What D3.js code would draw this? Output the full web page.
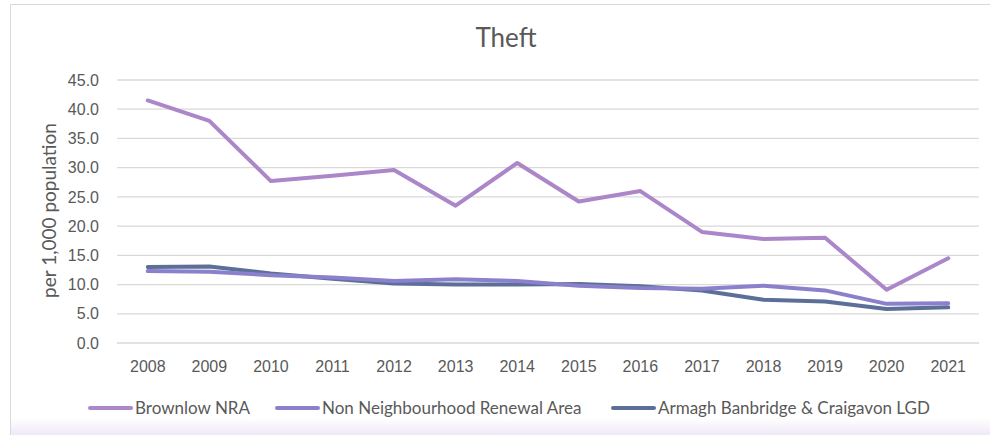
<!DOCTYPE html>
<html>
<head>
<meta charset="utf-8">
<script src="https://cdn.jsdelivr.net/npm/d3@7"></script>
<style>
  body { margin: 0; background: #fff; }
  svg { display: block; font-family: Lato, "Open Sans", sans-serif; }
</style>
</head>
<body>
<div id="chart"></div>
<script>
// data
var years = ["2008","2009","2010","2011","2012","2013","2014","2015","2016","2017","2018","2019","2020","2021"];
var brownlow = [41.5, 38.0, 27.7, 28.6, 29.6, 23.5, 30.8, 24.2, 26.0, 19.0, 17.8, 18.0, 9.1, 14.5];
var nonNRA   = [12.3, 12.2, 11.6, 11.2, 10.6, 10.9, 10.6,  9.8,  9.4,  9.3,  9.8,  9.0, 6.7,  6.8];
var lgd      = [13.0, 13.1, 11.9, 11.0, 10.2, 10.0, 10.0, 10.1,  9.7,  9.0,  7.4,  7.1, 5.8,  6.1];
var yTicks = [0, 5, 10, 15, 20, 25, 30, 35, 40, 45];

var series = [
  {name: "Brownlow NRA", values: brownlow, color: "#ab86c9"},
  {name: "Non Neighbourhood Renewal Area", values: nonNRA, color: "#8a80cb"},
  {name: "Armagh Banbridge & Craigavon LGD", values: lgd, color: "#5b6f98"}
];

var W = 990, H = 435;
var margin = {top: 80, right: 11, bottom: 92, left: 117};
var width = W - margin.left - margin.right,
    height = H - margin.top - margin.bottom;

var svg = d3.select("#chart").append("svg")
    .attr("width", W)
    .attr("height", H);

// bottom lavender fade
var grad = svg.append("defs").append("linearGradient")
    .attr("id", "fade").attr("x1", 0).attr("y1", 0).attr("x2", 0).attr("y2", 1);
grad.append("stop").attr("offset", "0%").attr("stop-color", "#ffffff");
grad.append("stop").attr("offset", "100%").attr("stop-color", "#efe8f8");
svg.append("rect")
    .attr("x", 10).attr("y", 418).attr("width", W - 10).attr("height", H - 418)
    .attr("fill", "url(#fade)");

// chart frame
svg.append("path")
    .attr("d", "M10.5," + H + "V4.5H" + W)
    .attr("fill", "none")
    .attr("stroke", "#d9d9d9")
    .attr("stroke-width", 1);

var g = svg.append("g")
    .attr("transform", "translate(" + margin.left + "," + margin.top + ")");

var x = d3.scaleBand().domain(years).range([0, width]);
var y = d3.scaleLinear().domain([0, 45]).range([height, 0]);

// gridlines
g.append("g")
  .selectAll("line")
  .data(yTicks)
  .enter()
  .append("line")
    .attr("x1", 0)
    .attr("x2", width)
    .attr("y1", function(d) { return y(d); })
    .attr("y2", function(d) { return y(d); })
    .attr("stroke", "#d9d9d9")
    .attr("stroke-width", 1.3);

// y axis labels
var yAxis = g.append("g")
    .call(d3.axisLeft(y).tickValues(yTicks).tickFormat(d3.format(".1f")).tickSize(0).tickPadding(18));
yAxis.select(".domain").remove();
yAxis.selectAll("text")
    .attr("fill", "#595959")
    .style("font-size", "16px");

// x axis labels
var xAxis = g.append("g")
    .attr("transform", "translate(0," + height + ")")
    .call(d3.axisBottom(x).tickSize(0).tickPadding(18));
xAxis.select(".domain").remove();
xAxis.selectAll("text")
    .attr("fill", "#595959")
    .style("font-size", "16px");

// lines
var line = d3.line()
    .x(function(d, i) { return x(years[i]) + x.bandwidth() / 2; })
    .y(function(d) { return y(d); });

g.selectAll(".series")
  .data(series.slice().reverse())
  .enter()
  .append("path")
    .attr("class", "series")
    .attr("fill", "none")
    .attr("stroke", function(d) { return d.color; })
    .attr("stroke-width", 4)
    .attr("stroke-linejoin", "round")
    .attr("stroke-linecap", "round")
    .attr("d", function(d) { return line(d.values); });

// title
svg.append("text")
    .attr("x", 506)
    .attr("y", 47)
    .attr("text-anchor", "middle")
    .attr("fill", "#595959")
    .style("font-size", "26px")
    .text("Theft");

// y axis title
svg.append("text")
    .attr("transform", "translate(56," + (margin.top + height / 2 - 1) + ") rotate(-90)")
    .attr("text-anchor", "middle")
    .attr("fill", "#595959")
    .style("font-size", "19px")
    .text("per 1,000 population");

// legend
var legendX = [89, 276, 612];
var legend = svg.selectAll(".legend")
  .data(series)
  .enter()
  .append("g")
    .attr("class", "legend")
    .attr("transform", function(d, i) { return "translate(" + legendX[i] + ",408)"; });
legend.append("line")
    .attr("x1", 1).attr("x2", 42)
    .attr("stroke", function(d) { return d.color; })
    .attr("stroke-width", 4)
    .attr("stroke-linecap", "round");
legend.append("text")
    .attr("x", 46)
    .attr("dy", "0.35em")
    .attr("fill", "#595959")
    .style("font-size", "17px")
    .text(function(d) { return d.name; });
</script>
</body>
</html>
